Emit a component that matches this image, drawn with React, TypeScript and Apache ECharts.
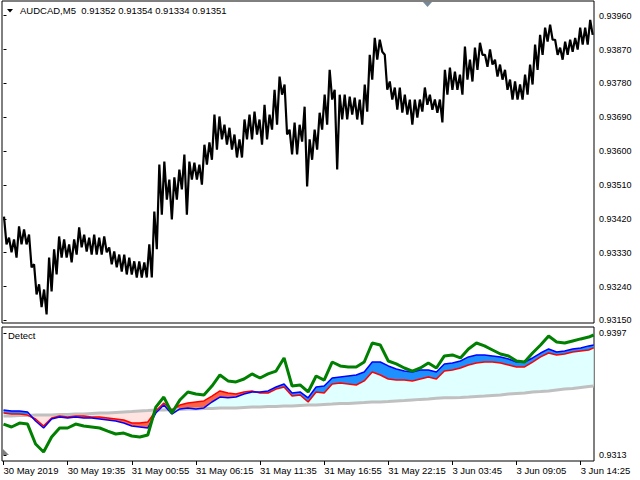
import React, { useEffect, useRef } from "react";
import * as echarts from "echarts";

// ---- main pane: AUDCAD M5 price, per 5-bar bin high / low
const priceHigh = [
  0.93426, 0.9337, 0.93365, 0.934, 0.93392, 0.93378, 0.93299, 0.93246, 0.93232, 0.93317,
  0.93339, 0.93373, 0.93365, 0.93352, 0.93365, 0.93397, 0.93378, 0.9337, 0.93378, 0.9337,
  0.93373, 0.93344, 0.93333, 0.93325, 0.93325, 0.93317, 0.93307, 0.93307, 0.93304, 0.93352,
  0.93439, 0.93564, 0.93572, 0.93524, 0.9353, 0.93551, 0.93591, 0.93572, 0.93569, 0.93564,
  0.93617, 0.93623, 0.93697, 0.93692, 0.9367, 0.93662, 0.93644, 0.93631, 0.93684, 0.93697,
  0.93705, 0.93684, 0.93723, 0.93697, 0.93763, 0.93798, 0.93777, 0.93657, 0.93676, 0.9367,
  0.93718, 0.93631, 0.93657, 0.93702, 0.9375, 0.93816, 0.93763, 0.9375, 0.9375, 0.93745,
  0.93742, 0.93737, 0.93777, 0.93856, 0.93901, 0.93896, 0.93856, 0.93785, 0.93769, 0.93769,
  0.9375, 0.93737, 0.93737, 0.93737, 0.93769, 0.9375, 0.93737, 0.93737, 0.93816, 0.93822,
  0.93811, 0.93803, 0.93878, 0.93843, 0.93875, 0.93888, 0.93856, 0.9387, 0.93843, 0.9383,
  0.93816, 0.9379, 0.93785, 0.93777, 0.93803, 0.9383, 0.93883, 0.93909, 0.93928, 0.93936,
  0.93896, 0.93875, 0.93891, 0.93896, 0.93901, 0.93928, 0.93928, 0.93949,
];
const priceLow = [
  0.93352, 0.93331, 0.93317, 0.93352, 0.93352, 0.93291, 0.93219, 0.93185, 0.93166, 0.93227,
  0.93272, 0.93317, 0.93317, 0.93304, 0.93325, 0.93344, 0.93333, 0.93325, 0.93325, 0.93325,
  0.93331, 0.93299, 0.93291, 0.9328, 0.93272, 0.93272, 0.93264, 0.93264, 0.93264, 0.93264,
  0.93339, 0.93431, 0.93471, 0.93418, 0.93471, 0.93498, 0.93431, 0.93524, 0.93524, 0.93511,
  0.93564, 0.93577, 0.93604, 0.93631, 0.93617, 0.93604, 0.93583, 0.93583, 0.93631, 0.93631,
  0.93644, 0.93617, 0.93631, 0.93657, 0.9367, 0.9375, 0.93644, 0.93591, 0.93591, 0.93625,
  0.93506, 0.93577, 0.93604, 0.93657, 0.9367, 0.93737, 0.93551, 0.93684, 0.93684, 0.93697,
  0.93684, 0.9367, 0.93705, 0.9379, 0.93843, 0.93864, 0.93763, 0.93737, 0.9371, 0.93702,
  0.93697, 0.9367, 0.93689, 0.93705, 0.93723, 0.9371, 0.93702, 0.93676, 0.9375, 0.93763,
  0.93763, 0.9375, 0.9379, 0.93785, 0.93816, 0.93856, 0.93824, 0.9383, 0.93798, 0.9379,
  0.93763, 0.93737, 0.93737, 0.93737, 0.9375, 0.93777, 0.93816, 0.93856, 0.93891, 0.93896,
  0.93856, 0.93843, 0.93856, 0.93864, 0.9387, 0.93883, 0.93883, 0.93909,
];

// ---- "Detect" indicator pane, sampled every 8 bars
const indIdx = [
  0, 8, 16, 24, 32, 40, 48, 56, 64, 72, 80, 88, 96, 104, 112, 120, 128, 136, 144, 152,
  160, 168, 176, 184, 192, 200, 208, 216, 224, 232, 240, 248, 256, 264, 272, 280, 288, 296, 304, 312,
  320, 328, 336, 344, 352, 360, 368, 376, 384, 392, 400, 408, 416, 424, 432, 440, 448, 456, 464, 472,
  480, 488, 496, 504, 512, 520, 528, 536, 544, 552, 560, 568, 576, 584, 589,
];
const greenLine = [
  0.93343, 0.93323, 0.9335, 0.93343, 0.93206, 0.93151, 0.93254, 0.93316, 0.93316, 0.93343,
  0.9333, 0.93323, 0.93316, 0.93295, 0.93275, 0.93281, 0.93261, 0.93254, 0.93268, 0.9346,
  0.93529, 0.93419, 0.93509, 0.93564, 0.9355, 0.93543, 0.93605, 0.93681, 0.9364, 0.93633,
  0.93653, 0.93688, 0.9366, 0.93688, 0.93708, 0.93798, 0.93605, 0.93612, 0.93564, 0.93674,
  0.93646, 0.9377, 0.93743, 0.93736, 0.93736, 0.9377, 0.93901, 0.93887, 0.93777, 0.93757,
  0.93729, 0.93708, 0.93729, 0.93763, 0.93729, 0.93812, 0.93819, 0.93798, 0.9386, 0.93901,
  0.93881, 0.93853, 0.93825, 0.93812, 0.93777, 0.9377, 0.93832, 0.93887, 0.93949, 0.93908,
  0.93901, 0.93915, 0.93929, 0.93942, 0.93956,
];
const blueLine = [
  0.9344, 0.93433, 0.93433, 0.93426, 0.93364, 0.93316, 0.93378, 0.93392, 0.93385, 0.93392,
  0.93385, 0.93385, 0.93378, 0.93371, 0.93364, 0.9335, 0.9333, 0.93323, 0.93316, 0.93419,
  0.93474, 0.93412, 0.93447, 0.93454, 0.93447, 0.93454, 0.93495, 0.93529, 0.93524, 0.93529,
  0.9355, 0.93564, 0.93564, 0.93571, 0.93598, 0.93619, 0.93557, 0.93564, 0.93524, 0.93598,
  0.93605, 0.9366, 0.93667, 0.93674, 0.93681, 0.93701, 0.9377, 0.9377, 0.93743, 0.93722,
  0.93708, 0.93701, 0.93715, 0.93715, 0.93701, 0.93757, 0.93763, 0.93777, 0.93805, 0.93819,
  0.93819, 0.93812, 0.93805, 0.93791, 0.9377, 0.9377, 0.93798, 0.93832, 0.9386, 0.93839,
  0.93846, 0.9386, 0.93867, 0.93881, 0.93887,
];
const redLine = [
  0.93419, 0.93412, 0.93412, 0.93405, 0.93378, 0.9333, 0.93385, 0.93399, 0.93392, 0.93399,
  0.93399, 0.93392, 0.93392, 0.93385, 0.93378, 0.93371, 0.9335, 0.9335, 0.93357, 0.93433,
  0.93488, 0.9344, 0.93474, 0.93488, 0.93495, 0.93502, 0.93536, 0.93571, 0.93557, 0.9355,
  0.93564, 0.93571, 0.93557, 0.93557, 0.93584, 0.93598, 0.93536, 0.93543, 0.93495, 0.93564,
  0.93557, 0.93619, 0.93626, 0.93619, 0.93612, 0.9364, 0.93701, 0.93681, 0.93653, 0.93646,
  0.93646, 0.9364, 0.93653, 0.93667, 0.93653, 0.93708, 0.93715, 0.93729, 0.9375, 0.93763,
  0.9377, 0.9377, 0.93763, 0.9375, 0.93736, 0.93736, 0.9377, 0.93805, 0.93832, 0.93819,
  0.93825, 0.93839, 0.93846, 0.93853, 0.93867,
];
const grayLine = [
  0.93399, 0.93399, 0.93402, 0.93402, 0.93405, 0.93405, 0.93405, 0.93409, 0.93409, 0.93412,
  0.93412, 0.93416, 0.93419, 0.93419, 0.93423, 0.93426, 0.93429, 0.93433, 0.93436, 0.9344,
  0.9344, 0.93443, 0.93443, 0.93447, 0.93447, 0.9345, 0.9345, 0.93454, 0.93454, 0.93454,
  0.93457, 0.9346, 0.9346, 0.93464, 0.93464, 0.93467, 0.93467, 0.93471, 0.93474, 0.93474,
  0.93478, 0.93481, 0.93485, 0.93485, 0.93488, 0.93491, 0.93495, 0.93495, 0.93498, 0.93502,
  0.93505, 0.93509, 0.93513, 0.93516, 0.9352, 0.93524, 0.93524, 0.93526, 0.93529, 0.93533,
  0.93536, 0.9354, 0.93543, 0.9355, 0.93554, 0.93557, 0.93564, 0.93567, 0.93571, 0.93578,
  0.93584, 0.93588, 0.93595, 0.93602, 0.93605,
];

// ---- axis ticks
const priceTicks = [0.9315, 0.9324, 0.9333, 0.9342, 0.9351, 0.936, 0.9369, 0.9378, 0.9387, 0.9396];
const indTicks = [0.9313, 0.9397];
const timeTicks = [0, 64, 128, 192, 256, 320, 384, 448, 512, 576];
const timeLabels = [
  "30 May 2019", "30 May 19:35", "31 May 00:55", "31 May 06:15", "31 May 11:35",
  "31 May 16:55", "31 May 22:15", "3 Jun 03:45", "3 Jun 09:05", "3 Jun 14:25",
];
const titleText = "AUDCAD,M5  0.91352 0.91354 0.91334 0.91351";
const indName = "Detect";

const FONT = "'Liberation Sans', Arial, sans-serif";

export default function App() {
  const ref = useRef<HTMLDivElement>(null);
  useEffect(() => {
    if (!ref.current) return;
    const chart = echarts.init(ref.current, null, { renderer: "svg" });

    const pricePts: number[][] = [];
    priceHigh.forEach((h, k) => {
      pricePts.push([k * 5 + 0.5, h]);
      pricePts.push([k * 5 + 3, priceLow[k]]);
    });

    const lo = blueLine.map((b, i) => Math.min(b, redLine[i]));
    const hi = blueLine.map((b, i) => Math.max(b, redLine[i]));
    const cyanTop = grayLine.map((g, i) => Math.max(g, lo[i]));
    const blueTop = blueLine.map((b, i) => (b > redLine[i] ? hi[i] : lo[i]));
    const redTop = blueLine.map((b, i) => (b > redLine[i] ? lo[i] : hi[i]));
    const pinkBottom = grayLine.map((g, i) => Math.min(g, hi[i]));

    const pair = (arr: number[]) => indIdx.map((x, i) => [x, arr[i]]);

    const lineSeries = (name: string, data: number[][], color: string, width: number, z: number) => ({
      name,
      type: "line",
      xAxisIndex: 1,
      yAxisIndex: 1,
      data,
      symbol: "none",
      showSymbol: false,
      lineStyle: { color, width },
      silent: true,
      z,
    });

    const xCommon = {
      type: "value",
      min: -1.5,
      max: 589.3,
      splitLine: { show: false },
      axisLine: { show: false },
    };

    chart.setOption({
      animation: false,
      backgroundColor: "#ffffff",
      textStyle: { fontFamily: FONT },
      grid: [
        { left: 2, top: 1, width: 592, height: 322, show: true, borderColor: "#000", borderWidth: 1, backgroundColor: "#fff" },
        { left: 2, top: 327, width: 592, height: 134, show: true, borderColor: "#000", borderWidth: 1, backgroundColor: "#fff" },
      ],
      xAxis: [
        { ...xCommon, gridIndex: 0, axisTick: { show: false }, axisLabel: { show: false } },
        {
          ...xCommon,
          gridIndex: 1,
          axisTick: { show: true, length: 4, lineStyle: { color: "#000" }, customValues: timeTicks },
          axisLabel: {
            show: true,
            customValues: timeTicks,
            align: "left",
            margin: 4,
            color: "#000",
            fontSize: 9.5,
            fontFamily: FONT,
            formatter: (v: number) => timeLabels[timeTicks.indexOf(Math.round(v))] ?? "",
          },
        },
      ],
      yAxis: [
        {
          type: "value",
          gridIndex: 0,
          position: "right",
          min: 0.93143,
          max: 0.93999,
          splitLine: { show: false },
          axisLine: { show: false },
          axisTick: { show: true, length: 3, lineStyle: { color: "#000" }, customValues: priceTicks },
          axisLabel: {
            customValues: priceTicks,
            margin: 5,
            color: "#000",
            fontSize: 9,
            fontFamily: FONT,
            formatter: (v: number) => v.toFixed(5),
          },
        },
        {
          type: "value",
          gridIndex: 1,
          position: "right",
          min: 0.93089,
          max: 0.94011,
          splitLine: { show: false },
          axisLine: { show: false },
          axisTick: { show: true, length: 3, lineStyle: { color: "#000" }, customValues: indTicks },
          axisLabel: {
            customValues: indTicks,
            margin: 5,
            color: "#000",
            fontSize: 9,
            fontFamily: FONT,
            formatter: (v: number) => v.toFixed(4),
          },
        },
      ],
      series: [
        {
          name: "AUDCAD",
          type: "line",
          xAxisIndex: 0,
          yAxisIndex: 0,
          data: pricePts,
          symbol: "none",
          showSymbol: false,
          lineStyle: { color: "#000", width: 2.2 },
          silent: true,
        },
        {
          name: "fills",
          type: "custom",
          xAxisIndex: 1,
          yAxisIndex: 1,
          data: [[indIdx[0], grayLine[0]]],
          encode: { x: 0, y: 1 },
          silent: true,
          clip: true,
          z: 2,
          renderItem: (_params: any, api: any) => {
            const poly = (lower: number[], upper: number[], color: string) => {
              const pts: number[][] = [];
              for (let i = 0; i < indIdx.length; i++) pts.push(api.coord([indIdx[i], lower[i]]));
              for (let i = indIdx.length - 1; i >= 0; i--) pts.push(api.coord([indIdx[i], upper[i]]));
              return { type: "polygon", shape: { points: pts }, style: { fill: color, stroke: null } };
            };
            return {
              type: "group",
              children: [
                poly(grayLine, cyanTop, "#E0FFFF"),
                poly(pinkBottom, grayLine, "#FFE4E1"),
                poly(lo, blueTop, "#1E90FF"),
                poly(lo, redTop, "#FF6347"),
              ],
            };
          },
        },
        lineSeries("gray", pair(grayLine), "#C0C0C0", 3, 3),
        lineSeries("red", pair(redLine), "#FF0000", 1.5, 4),
        lineSeries("blue", pair(blueLine), "#0000FF", 1.5, 5),
        lineSeries("green", pair(greenLine), "#008000", 3, 6),
      ],
      graphic: [
        { type: "polygon", shape: { points: [[7, 9], [13, 9], [10, 12.5]] }, style: { fill: "#000" }, z: 100 },
        {
          type: "text",
          x: 20,
          y: 10.5,
          style: { text: titleText, fill: "#000", font: `9.5px ${FONT}`, textVerticalAlign: "middle" },
          z: 100,
        },
        { type: "polygon", shape: { points: [[423, 2], [432, 2], [427.5, 7]] }, style: { fill: "#778899" }, z: 100 },
        {
          type: "text",
          x: 8,
          y: 335,
          style: { text: indName, fill: "#000", font: `9.5px ${FONT}`, textVerticalAlign: "middle" },
          z: 100,
        },
        { type: "polygon", shape: { points: [[3, 449], [3, 455], [9, 455]] }, style: { fill: "#808080" }, z: 100 },
      ],
    });
    return () => chart.dispose();
  }, []);
  return (
    <div
      ref={ref}
      style={{ position: "fixed", left: 0, top: 0, width: 640, height: 480, background: "#fff" }}
    />
  );
}
